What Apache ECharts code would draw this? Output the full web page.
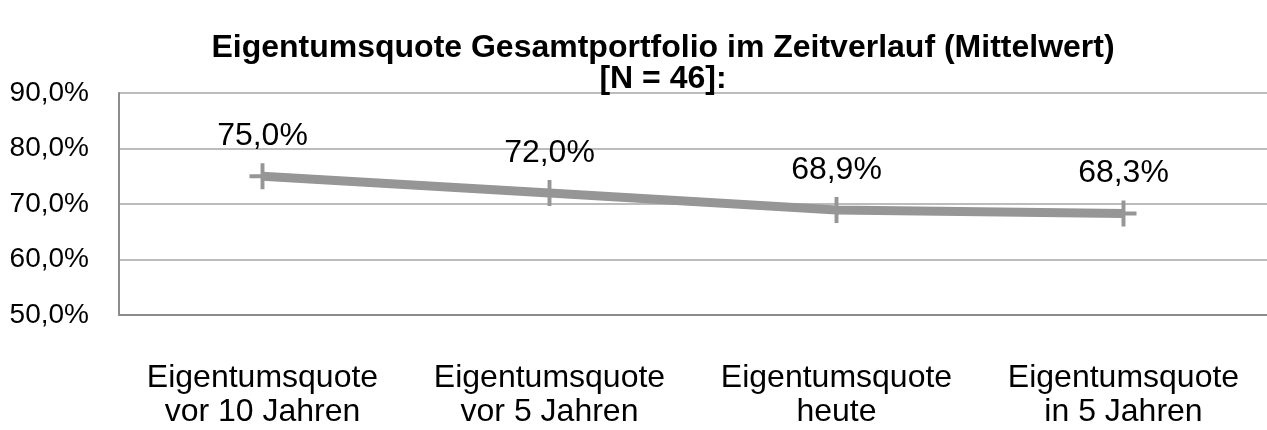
<!DOCTYPE html>
<html>
<head>
<meta charset="utf-8">
<script src="https://cdn.jsdelivr.net/npm/echarts@6/dist/echarts.min.js"></script>
<style>
  html, body { margin: 0; padding: 0; background: #fff; }
  #main { width: 1267px; height: 430px; }
</style>
</head>
<body>
<div id="main"></div>
<script>
var categories = ['Eigentumsquote\nvor 10 Jahren', 'Eigentumsquote\nvor 5 Jahren', 'Eigentumsquote\nheute', 'Eigentumsquote\nin 5 Jahren'];
var quoteValues = [75.0, 72.0, 68.9, 68.3];
var yMin = 50, yMax = 90, yStep = 10;

function pct(v) {
    return v.toFixed(1).replace('.', ',') + '%';
}

var myChart = echarts.init(document.getElementById('main'));
var option = {
    animation: false,
    title: {
        text: 'Eigentumsquote Gesamtportfolio im Zeitverlauf (Mittelwert)\n[N = 46]:',
        left: 658,
        textAlign: 'center',
        top: 28,
        textStyle: {
            fontFamily: 'Liberation Sans',
            fontWeight: 'bold',
            fontSize: 32,
            lineHeight: 31,
            color: '#000'
        }
    },
    grid: {
        left: 119,
        top: 93,
        height: 222,
        width: 1153
    },
    xAxis: {
        type: 'category',
        data: categories,
        boundaryGap: true,
        axisLine: { lineStyle: { color: '#8c8c8c', width: 2 } },
        axisTick: { show: false },
        axisLabel: {
            interval: 0,
            fontFamily: 'Liberation Sans',
            fontSize: 32,
            lineHeight: 34,
            color: '#000',
            margin: 46
        }
    },
    yAxis: {
        type: 'value',
        min: yMin,
        max: yMax,
        interval: yStep,
        axisLine: { show: true, lineStyle: { color: '#8c8c8c', width: 2 } },
        axisTick: { show: false },
        splitLine: { lineStyle: { color: '#a6a6a6', width: 1.5 } },
        axisLabel: {
            fontFamily: 'Liberation Sans',
            fontSize: 28,
            color: '#000',
            margin: 30,
            formatter: function (v) { return pct(v); }
        }
    },
    series: [
        {
            name: 'Eigentumsquote',
            type: 'line',
            data: quoteValues,
            lineStyle: { color: '#969696', width: 9 },
            symbol: 'path://M-1.5,-10L1.5,-10L1.5,-1.5L10,-1.5L10,1.5L1.5,1.5L1.5,10L-1.5,10L-1.5,1.5L-10,1.5L-10,-1.5L-1.5,-1.5Z',
            symbolSize: 26,
            itemStyle: { color: '#969696' },
            label: {
                show: true,
                position: 'top',
                distance: 11,
                fontFamily: 'Liberation Sans',
                fontSize: 32,
                color: '#000',
                formatter: function (p) { return pct(p.value); }
            }
        }
    ]
};
myChart.setOption(option);
</script>
</body>
</html>
